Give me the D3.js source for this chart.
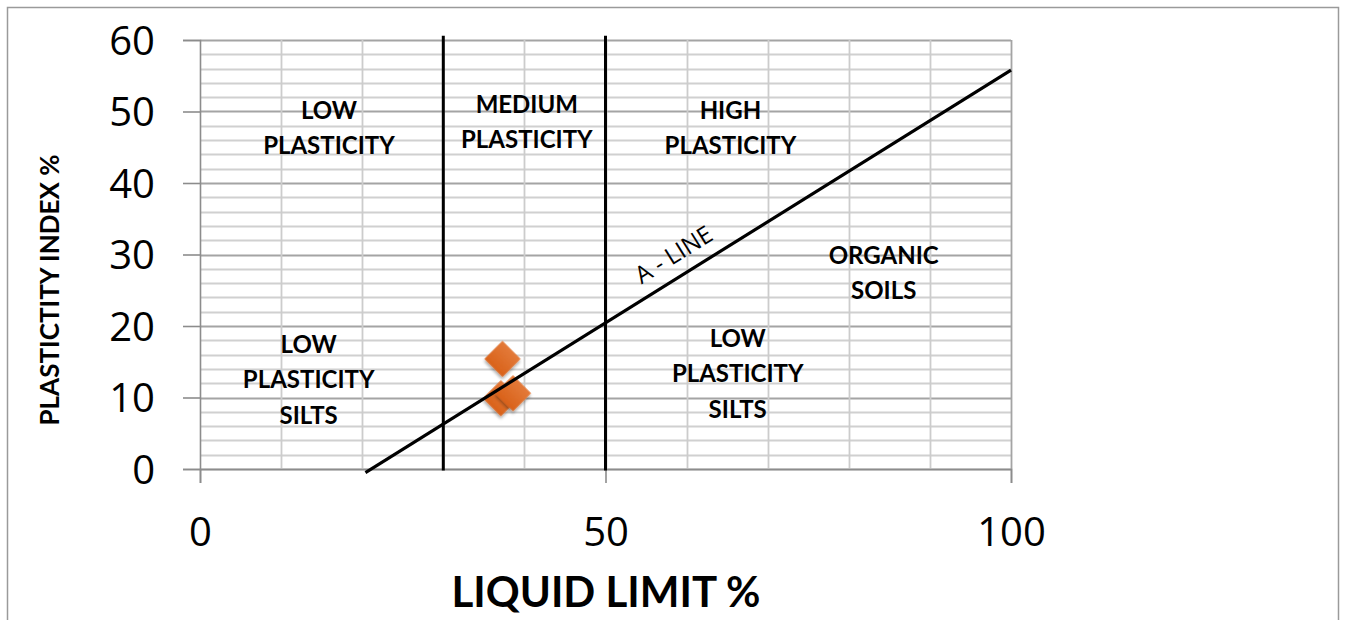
<!DOCTYPE html>
<html><head><meta charset="utf-8">
<script src="https://cdn.jsdelivr.net/npm/d3@7"></script>
<style>body{margin:0;background:#fff}svg{display:block}</style>
</head><body>
<svg id="c" width="1346" height="620"></svg>
<script>
const xTicks = [0, 50, 100];
const yTicks = [0, 10, 20, 30, 40, 50, 60];
const samplesLL = [37.3, 37.1, 38.6];
const samplesPI = [15.4, 9.9, 10.6];
const boundaryLL = [30, 50];
const boundaryPI = [-0.2, 60.6];
const aLineLL = [20.4, 100];
const aLinePI = [-0.5, 55.8];
const zoneLabels = [
  {lines: ["LOW", "PLASTICITY"], ll: 15.9, pi: 47.7},
  {lines: ["MEDIUM", "PLASTICITY"], ll: 40.3, pi: 48.5},
  {lines: ["HIGH", "PLASTICITY"], ll: 65.4, pi: 47.7},
  {lines: ["ORGANIC", "SOILS"], ll: 84.3, pi: 27.4},
  {lines: ["LOW", "PLASTICITY", "SILTS"], ll: 66.3, pi: 13.3},
  {lines: ["LOW", "PLASTICITY", "SILTS"], ll: 13.4, pi: 12.5}
];
const aLineLabel = {text: "A - LINE", ll: 58.4, pi: 30.0};

const svg = d3.select("#c");
const x = d3.scaleLinear().domain([0, 100]).range([200, 1011]);
const y = d3.scaleLinear().domain([0, 60]).range([469, 40]);

// outer border
svg.append("rect").attr("x", 7.5).attr("y", 7.5).attr("width", 1331).attr("height", 640)
  .attr("fill", "none").attr("stroke", "#9a9a9a").attr("stroke-width", 1.5);

// grid
const g = svg.append("g");
g.selectAll(".hm").data(d3.range(0, 61, 2)).join("line")
  .attr("x1", x(0)).attr("x2", x(100))
  .attr("y1", d => Math.round(y(d)) + 0.5).attr("y2", d => Math.round(y(d)) + 0.5)
  .attr("stroke", d => d % 10 === 0 ? "#a4a4a4" : "#d0d0d0").attr("stroke-width", 1.8);
g.selectAll(".vm").data(d3.range(10, 101, 10)).join("line")
  .attr("x1", d => Math.round(x(d)) + 0.5).attr("x2", d => Math.round(x(d)) + 0.5)
  .attr("y1", y(60)).attr("y2", y(0))
  .attr("stroke", d => d === 100 ? "#a4a4a4" : "#cccccc").attr("stroke-width", 1.8);

// axes
const yAxis = d3.axisLeft(y).tickValues(yTicks).tickSize(17).tickPadding(28);
const ya = svg.append("g").attr("transform", `translate(${x(0)},0)`).call(yAxis);
ya.select(".domain").attr("stroke", "#8c8c8c").attr("stroke-width", 1.6);
ya.selectAll(".tick line").attr("stroke", "#8c8c8c").attr("stroke-width", 1.6);
ya.selectAll(".tick text").attr("font-family", "Open Sans").attr("font-size", 40).attr("fill", "#000").attr("dy", "0.36em");

const xAxis = d3.axisBottom(x).tickValues(xTicks).tickSize(14).tickPadding(35);
const xa = svg.append("g").attr("transform", `translate(0,${y(0)})`).call(xAxis);
xa.select(".domain").attr("stroke", "#8c8c8c").attr("stroke-width", 1.6);
xa.selectAll(".tick line").attr("stroke", "#8c8c8c").attr("stroke-width", 1.6);
xa.selectAll(".tick text").attr("font-family", "Open Sans").attr("font-size", 40).attr("fill", "#000");

// boundary lines
const line = d3.line().x(d => x(d[0])).y(d => y(d[1]));
boundaryLL.forEach(ll => {
  svg.append("path").attr("d", line(boundaryPI.map(p => [ll, p])))
    .attr("stroke", "#000").attr("stroke-width", 3).attr("fill", "none");
});

// zone labels
zoneLabels.forEach(z => {
  const t = svg.append("text").attr("font-family", "Lato").attr("font-weight", "bold")
    .attr("font-size", 24).attr("text-anchor", "middle").attr("fill", "#000");
  const n = z.lines.length;
  z.lines.forEach((s, i) => {
    t.append("tspan").attr("x", x(z.ll))
      .attr("y", y(z.pi) + (i - (n - 1) / 2) * 35.5 + 8.5).text(s);
  });
});

// A-line label
const ang = Math.atan2(y(aLinePI[1]) - y(aLinePI[0]), x(aLineLL[1]) - x(aLineLL[0])) * 180 / Math.PI;
svg.append("text").attr("font-family", "Open Sans").attr("font-size", 24)
  .attr("text-anchor", "middle").attr("fill", "#000")
  .attr("transform", `translate(${x(aLineLabel.ll)},${y(aLineLabel.pi)}) rotate(${ang})`)
  .attr("dy", "0.35em").text(aLineLabel.text);

// markers
const defs = svg.append("defs");
const grad = defs.append("linearGradient").attr("id", "og").attr("x1", 0).attr("y1", 0).attr("x2", 0).attr("y2", 1);
grad.append("stop").attr("offset", "0%").attr("stop-color", "#e37a3a");
grad.append("stop").attr("offset", "100%").attr("stop-color", "#d9621a");
const flt = defs.append("filter").attr("id", "sh").attr("x", "-30%").attr("y", "-30%").attr("width", "160%").attr("height", "160%");
flt.append("feDropShadow").attr("dx", 1.5).attr("dy", 2).attr("stdDeviation", 1.5).attr("flood-color", "#000").attr("flood-opacity", 0.35);
const sym = d3.symbol().type(d3.symbolSquare).size(650);
svg.selectAll(".pt").data(samplesLL.map((l, i) => [l, samplesPI[i]])).join("path")
  .attr("d", sym)
  .attr("transform", d => `translate(${x(d[0])},${y(d[1])}) rotate(45)`)
  .attr("fill", "url(#og)").attr("filter", "url(#sh)");
// A-line drawn over the markers, as in the reference
svg.append("path").attr("d", line(aLineLL.map((l, i) => [l, aLinePI[i]])))
  .attr("stroke", "#000").attr("stroke-width", 3.2).attr("fill", "none");

// axis titles
svg.append("text").attr("x", 606).attr("y", 607).attr("text-anchor", "middle")
  .attr("font-family", "Lato").attr("font-weight", "bold").attr("font-size", 42).text("LIQUID LIMIT %");
svg.append("text").attr("transform", "translate(59,290) rotate(-90)").attr("text-anchor", "middle")
  .attr("font-family", "Lato").attr("font-weight", "bold").attr("font-size", 26).text("PLASTICTITY INDEX %");
</script>
</body></html>
